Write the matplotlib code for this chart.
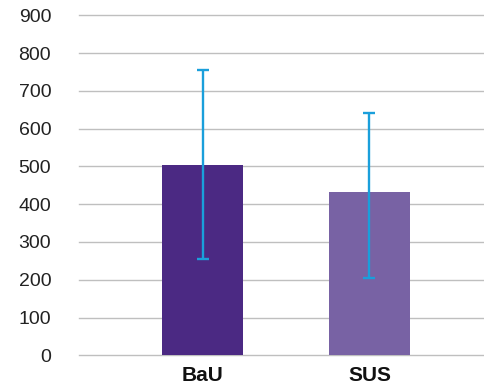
import matplotlib
matplotlib.use("Agg")
import matplotlib.pyplot as plt
import numpy as np

categories = ["BaU", "SUS"]
values = [505, 431]
err_low = [251, 226]
err_high = [250, 210]
bar_colors = ["#4B2983", "#7862A4"]
yticks = [0, 100, 200, 300, 400, 500, 600, 700, 800, 900]

plt.rcParams['font.family'] = ['Liberation Sans', 'DejaVu Sans']

fig = plt.figure(figsize=(4.84, 3.84), dpi=100)
ax = fig.add_axes([79/484, 1-355.3/384, 1-79/484, 340/384])

x = np.arange(len(categories))
ax.bar(x, values, width=0.485, color=bar_colors, zorder=2)
ax.errorbar(x, values, yerr=[err_low, err_high], fmt='none', ecolor='#1A9FDB',
            elinewidth=1.7, capsize=4.3, capthick=1.7, zorder=3)

ax.set_ylim(0, 900)
ax.set_xlim(-0.74, 1.686)
ax.set_yticks(yticks)
ax.set_yticklabels([str(t) for t in yticks], fontsize=14, color='#222222')
ax.set_xticks(x)
ax.set_xticklabels(categories, fontsize=15, fontweight='bold', color='#111111')
ax.tick_params(axis='y', length=0, pad=20)
ax.tick_params(axis='x', length=0, pad=8)
ax.yaxis.grid(True, color='#BFBFBF', linewidth=1.0, zorder=0)
ax.set_axisbelow(True)
for s in ax.spines.values():
    s.set_visible(False)
for gl in ax.get_ygridlines():
    gl.set_clip_on(False)

fig.savefig("out.png", dpi=100)
